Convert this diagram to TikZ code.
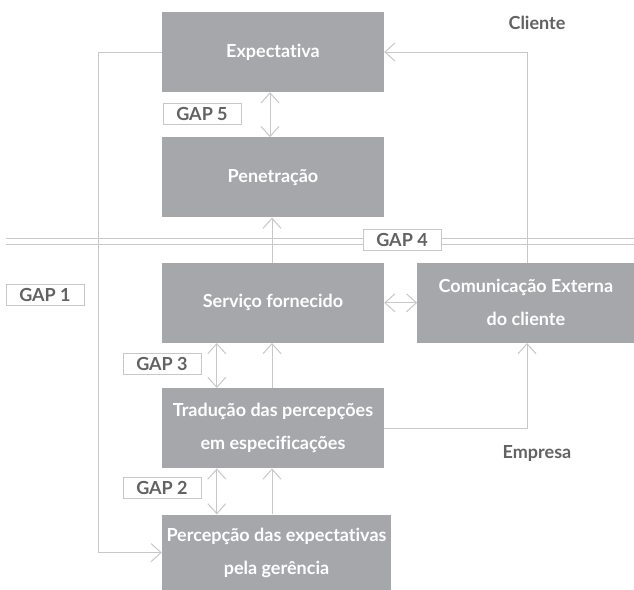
\documentclass[tikz,border=0pt]{standalone}
\usepackage{fontspec}
\setmainfont{Lato}[Ligatures={NoCommon,NoRequired,NoContextual}]
\usetikzlibrary{arrows.meta,positioning}
\definecolor{boxgray}{RGB}{166,167,170}
\definecolor{linegray}{RGB}{200,200,202}
\definecolor{textgray}{RGB}{98,98,100}
\tikzset{
  caixa/.style={rectangle,fill=boxgray,minimum width=222pt,minimum height=80pt,inner sep=0pt,
    text=white,align=center,font=\fontsize{18}{33}\selectfont\bfseries},
  gaplabel/.style={draw=linegray,fill=white,line width=1pt,minimum width=78pt,minimum height=21pt,
    inner sep=0pt,text=textgray,font=\fontsize{18}{18}\selectfont\bfseries},
  lado/.style={text=textgray,font=\fontsize{18}{18}\selectfont\bfseries},
  seta/.style={-{Straight Barb[length=10pt,width=18pt]},linegray,line width=1pt},
  setadupla/.style={{Straight Barb[length=10pt,width=18pt]}-{Straight Barb[length=10pt,width=18pt]},linegray,line width=1pt},
  linha/.style={linegray,line width=1pt},
}
\begin{document}
\begin{tikzpicture}[x=1pt,y=-1pt,node distance=45pt and 33pt]
  \useasboundingbox (0,0) rectangle (634,589);

  % coluna central
  \node[caixa] (expect) at (273,52) {Expectativa};
  \node[caixa] (penetr) [below=of expect] {Penetração};
  \node[caixa] (servico) [below=of penetr] {Serviço fornecido};
  \node[caixa] (traducao) [below=of servico] {Tradução das percepções\\em especificações};
  \node[caixa,minimum width=229pt,minimum height=76pt,anchor=north west] (percep)
    at ([yshift=-46pt]traducao.south west) {Percepção das expectativas\\pela gerência};
  \node[caixa,minimum width=217pt,anchor=west] (comun) [right=of servico] {Comunicação Externa\\do cliente};

  % linha dupla
  \coordinate (dl1) at (6,238);
  \coordinate (dr1) at (634,238);
  \coordinate (dl2) at (6,244);
  \coordinate (dr2) at (634,244);
  \draw[linha] (dl1) -- (dr1);
  \draw[linha] (dl2) -- (dr2);

  % ligacoes
  \coordinate (esq) at (98,0);
  \draw[seta] (expect.west) -- (expect.west -| esq) -- (percep.west -| esq) -- (percep.west);
  \draw[setadupla] ([xshift=-3pt]expect.south) -- ([xshift=-3pt]penetr.north);
  \draw[seta] ([xshift=-1pt]servico.north) -- ([xshift=-1pt]penetr.south);
  \draw[seta] ([xshift=-1pt]traducao.north) -- ([xshift=-1pt]servico.south);
  \draw[seta] ([xshift=-1pt]percep.north -| traducao.north) -- ([xshift=-1pt]traducao.south);
  \draw[setadupla] ([xshift=55pt]servico.south west) -- ([xshift=55pt]traducao.north west);
  \draw[setadupla] ([xshift=55pt]traducao.south west) -- ([xshift=55pt]percep.north west);
  \draw[setadupla] (servico.east) -- (comun.west);
  \coordinate (dir) at (527,0);
  \draw[seta] (traducao.east) -- (traducao.east -| dir) -- (comun.south -| dir);
  \draw[seta] (comun.north -| dir) -- (expect.east -| dir) -- (expect.east);

  % rotulos
  \node[gaplabel] (gapfive) at (202,114) {GAP 5};
  \node[gaplabel] (gapfour) at (402,240) {GAP 4};
  \node[gaplabel] (gapone) at (45,295) {GAP 1};
  \node[gaplabel] (gapthree) at (162,364) {GAP 3};
  \node[gaplabel] (gaptwo) at (162,488) {GAP 2};
  \node[lado] (cliente) at (537,23) {Cliente};
  \node[lado] (empresa) at (537,453) {Empresa};
\end{tikzpicture}
\end{document}
